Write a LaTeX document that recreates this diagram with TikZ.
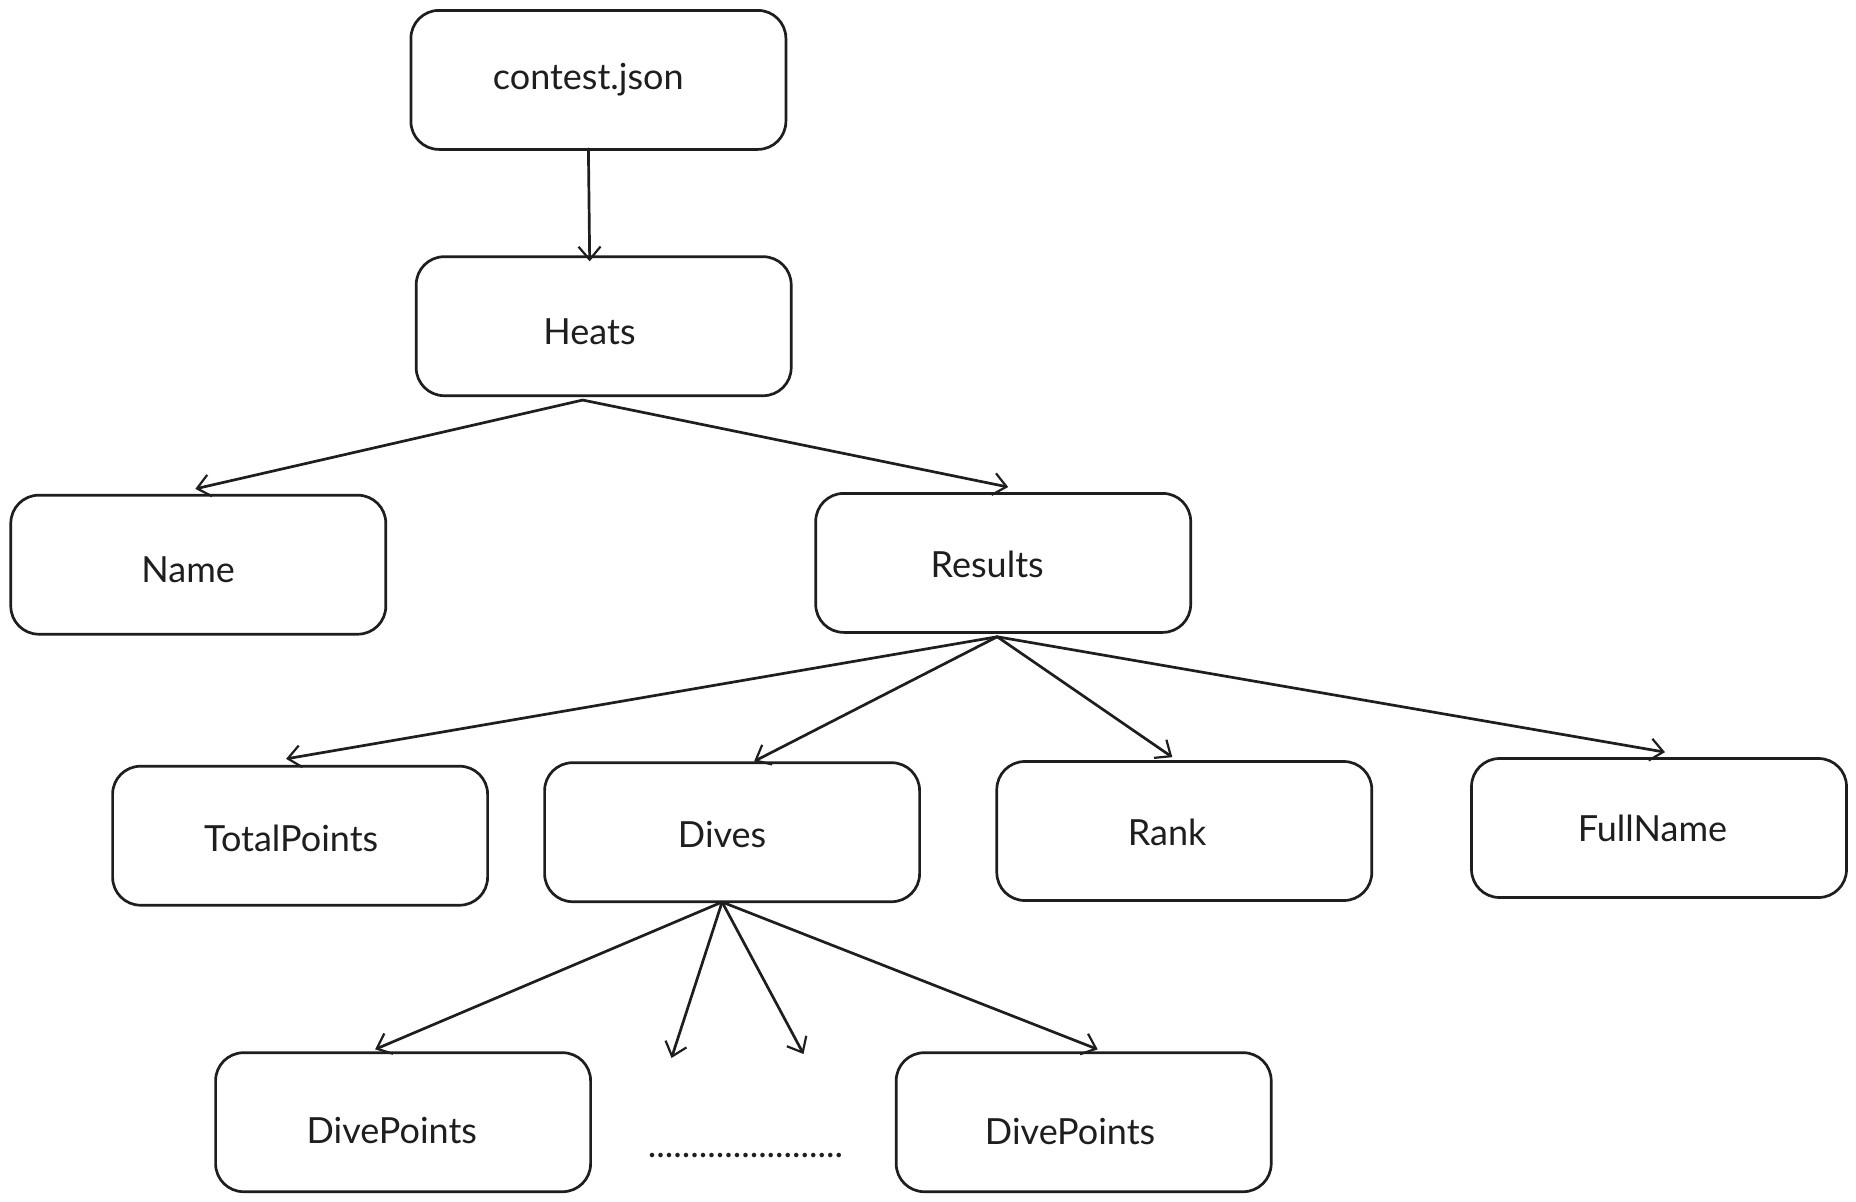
\documentclass[tikz,border=0pt]{standalone}
\usepackage{fontspec}
\setmainfont{Lato}
\usetikzlibrary{arrows.meta,calc}
\definecolor{ink}{HTML}{1E1E1E}
\begin{document}
\begin{tikzpicture}[x=1pt,y=-1pt,
  box/.style={draw=ink,line width=2.7pt,rounded corners=28pt,minimum width=375pt,minimum height=139pt,inner sep=0pt},
  lbl/.style={text=ink,font=\fontsize{36}{42}\selectfont,inner sep=0pt},
  conn/.style={draw=ink,line width=2.7pt,line cap=round,-{Straight Barb[length=13pt,width=22pt,line width=2.2pt]}},
]
\useasboundingbox[fill=white] (0,0) rectangle (1856,1202);
% boxes
\node[box] (contest) at (598.4,79.9) {};
\node[box] (heats) at (603.7,326.2) {};
\node[box] (name) at (198.3,564.7) {};
\node[box] (results) at (1003.2,562.9) {};
\node[box] (total) at (300.1,835.7) {};
\node[box] (dives) at (732.1,832.2) {};
\node[box] (rank) at (1184.3,831.0) {};
\node[box] (full) at (1659.0,828.0) {};
\node[box] (dpa) at (403.1,1122.2) {};
\node[box] (dpb) at (1083.7,1122.2) {};
% labels
\node[lbl] (tcontest) at (588.3,79.3) {contest.json};
\node[lbl] (theats) at (589.5,331.4) {Heats};
\node[lbl] (tname) at (188.2,569.4) {Name};
\node[lbl] (tresults) at (987.2,564.6) {Results};
\node[lbl] (ttotal) at (291.2,838.1) {TotalPoints};
\node[lbl] (tdives) at (722.1,834.5) {Dives};
\node[lbl] (trank) at (1167.1,832.1) {Rank};
\node[lbl] (tfull) at (1652.4,828.6) {FullName};
\node[lbl] (tdpa) at (391.8,1130.4) {DivePoints};
\node[lbl] (tdpb) at (1070.1,1131.6) {DivePoints};
\node[lbl,anchor=base] (dots) at (745.5,1157) {.......................};
% free ends
\coordinate (fa) at (671.5,1058);
\coordinate (fb) at (803.5,1054);
% connectors
\draw[conn] ($(contest.south)+(-10,-2)$) -- ($(heats.north)+(-14,6)$);
\draw[conn] ($(heats.south)+(-21,3)$) -- ($(name.north)+(-3,-5)$);
\draw[conn] ($(heats.south)+(-21,3)$) -- ($(results.north)+(5,-5)$);
\draw[conn] ($(results.south)+(-6,3)$) -- ($(total.north)+(-14,-6)$);
\draw[conn] ($(results.south)+(-6,3)$) -- ($(dives.north)+(22,0)$);
\draw[conn] ($(results.south)+(-6,3)$) -- ($(rank.north)+(-12,-3)$);
\draw[conn] ($(results.south)+(-6,3)$) -- ($(full.north)+(6,-5)$);
\draw[conn] ($(dives.south)+(-10,-1)$) -- ($(dpa.north)+(-28,-2)$);
\draw[conn] ($(dives.south)+(-10,-1)$) -- (fa);
\draw[conn] ($(dives.south)+(-10,-1)$) -- (fb);
\draw[conn] ($(dives.south)+(-10,-1)$) -- ($(dpb.north)+(14,-2)$);
\end{tikzpicture}
\end{document}
